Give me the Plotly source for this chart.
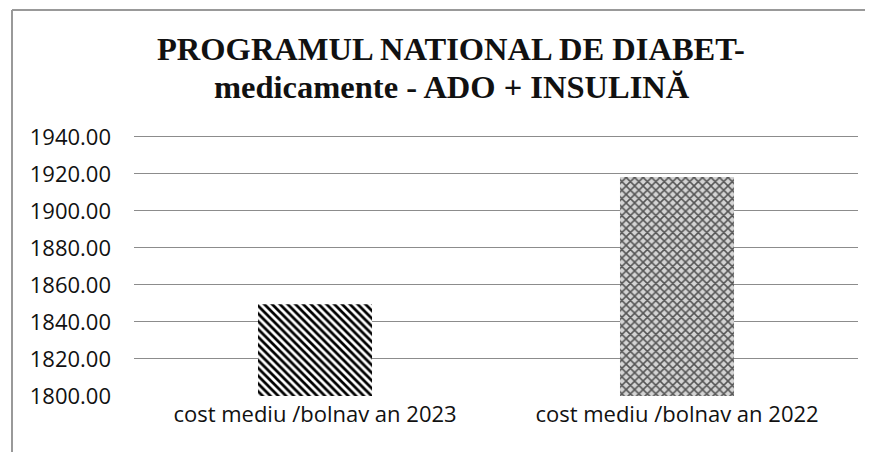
import plotly.graph_objects as go

title_lines = ["PROGRAMUL NATIONAL DE DIABET-", "medicamente - ADO + INSULINĂ"]
categories = ["cost mediu /bolnav an 2023", "cost mediu /bolnav an 2022"]
values = [1849.5, 1918.3]
tick_vals = [1800, 1820, 1840, 1860, 1880, 1900, 1920, 1940]

# page body has an 8px margin, so the figure is laid out offset by 8px
W, H = 865, 444
L, R, T, B = 126, 15, 127, 56
PW, PH = W - L - R, H - T - B


def px_x(x):
    return (x - L) / PW


def px_y(y):
    return (H - B - y) / PH


fig = go.Figure()
fig.add_trace(go.Bar(
    x=[categories[0]], y=[values[0]],
    marker=dict(color="white", line=dict(width=0),
                pattern=dict(shape="\\", fgcolor="black", bgcolor="white",
                             fgopacity=1, size=5.5, solidity=0.5)),
    width=0.315, showlegend=False,
))
fig.add_trace(go.Bar(
    x=[categories[1]], y=[values[1]],
    marker=dict(color="white", line=dict(width=0),
                pattern=dict(shape="x", fgcolor="#555555", bgcolor="#d4d4d4",
                             fgopacity=1, size=6, solidity=0.45)),
    width=0.315, showlegend=False,
))

title_font = dict(family="Liberation Serif", size=32.5, color="#111")
fig.add_annotation(text="<b>" + title_lines[0] + "</b>", xref="paper", yref="paper",
                   x=px_x(443), y=px_y(40.5), xanchor="center", yanchor="middle",
                   showarrow=False, font=title_font)
fig.add_annotation(text="<b>" + title_lines[1] + "</b>", xref="paper", yref="paper",
                   x=px_x(443.5), y=px_y(78.5), xanchor="center", yanchor="middle",
                   showarrow=False, font=title_font)

fig.update_layout(
    width=W, height=H,
    margin=dict(l=L, r=R, t=T, b=B),
    paper_bgcolor="white", plot_bgcolor="white",
    barmode="overlay",
    font=dict(family="Open Sans", color="#111"),
    xaxis=dict(
        categoryorder="array", categoryarray=categories,
        showline=False, showgrid=False, ticks="",
        tickfont=dict(size=22, family="Open Sans", color="#111"),
        ticklabelstandoff=3,
    ),
    yaxis=dict(
        range=[1800, 1941], tickvals=tick_vals, tickformat=".2f",
        showgrid=True, gridcolor="#8c8c8c", gridwidth=1,
        zeroline=False, showline=False, ticks="",
        tickfont=dict(size=22, family="Open Sans", color="#111"),
        ticklabelstandoff=22,
    ),
    shapes=[
        dict(type="line", xref="paper", yref="paper",
             x0=px_x(4), x1=px_x(W + 10),
             y0=px_y(2), y1=px_y(2),
             line=dict(color="#999", width=2)),
        dict(type="line", xref="paper", yref="paper",
             x0=px_x(4), x1=px_x(4),
             y0=px_y(2), y1=px_y(H + 10),
             line=dict(color="#999", width=2)),
    ],
)

fig.write_html("out.html")
